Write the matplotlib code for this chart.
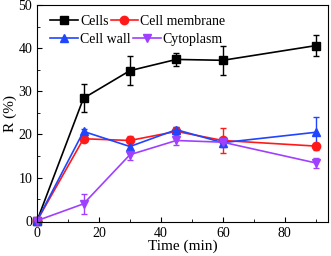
import matplotlib
matplotlib.use("Agg")
import matplotlib.pyplot as plt
from matplotlib.ticker import MultipleLocator

plt.rcParams['font.family'] = ['Liberation Serif', 'DejaVu Serif']

time_min = [0, 15, 30, 45, 60, 90]

cells = [0, 28.4, 34.8, 37.4, 37.2, 40.6]
cells_err = [0, 3.3, 3.3, 1.6, 3.3, 2.5]

membrane = [0, 19.0, 18.6, 20.7, 18.6, 17.3]
membrane_err = [0, 0.6, 1.0, 1.0, 3.0, 0.8]

wall = [0, 20.7, 17.2, 21.1, 18.1, 20.5]
wall_err = [0, 0.6, 1.0, 0.6, 1.0, 3.5]

cytoplasm = [0, 3.9, 15.3, 18.6, 18.2, 13.4]
cytoplasm_err = [0, 2.4, 1.2, 1.0, 0.6, 1.2]

fig = plt.figure(figsize=(3.31, 2.56), dpi=100)
ax = fig.add_axes([0.112, 0.133, 0.879, 0.847])

series = [
    ("Cells", cells, cells_err, "black", "s"),
    ("Cell membrane", membrane, membrane_err, "#ff1a1a", "o"),
    ("Cell wall", wall, wall_err, "#1f45ff", "^"),
    ("Cytoplasm", cytoplasm, cytoplasm_err, "#a040ff", "v"),
]

handles = {}
for name, vals, errs, col, mk in series:
    cont = ax.errorbar(time_min, vals, yerr=errs, color=col, marker=mk,
                       markersize=6, linewidth=1.2, elinewidth=1.0,
                       capsize=2.5, capthick=1.0, label=name, clip_on=False)
    for art in cont.get_children():
        art.set_clip_on(False)
    handles[name] = cont[0]

# two rows, each laid out on its own (like the original)
leg_kw = dict(ncol=2, loc="upper left", frameon=False, fontsize=10,
              handlelength=2.0, handletextpad=0.15, columnspacing=0.15,
              borderaxespad=0.0, borderpad=0.0)
row1 = ["Cells", "Cell membrane"]
row2 = ["Cell wall", "Cytoplasm"]
leg1 = ax.legend([handles[n] for n in row1], row1,
                 bbox_to_anchor=(0.045, 0.955), **leg_kw)
ax.add_artist(leg1)
ax.legend([handles[n] for n in row2], row2,
          bbox_to_anchor=(0.045, 0.87), **leg_kw)

ax.set_xlim(0, 94)
ax.set_ylim(-0.3, 50)
ax.xaxis.set_major_locator(MultipleLocator(20))
ax.xaxis.set_minor_locator(MultipleLocator(10))
ax.yaxis.set_major_locator(MultipleLocator(10))
ax.yaxis.set_minor_locator(MultipleLocator(5))
ax.tick_params(which="both", direction="in", top=False, right=False, labelsize=10)
ax.tick_params(which="major", length=3.5)
ax.tick_params(which="minor", length=2)
ax.set_xlabel("Time (min)", fontsize=11, labelpad=0)
ax.set_ylabel("R (%)", fontsize=11, labelpad=1)

fig.savefig("out.png", dpi=100)
